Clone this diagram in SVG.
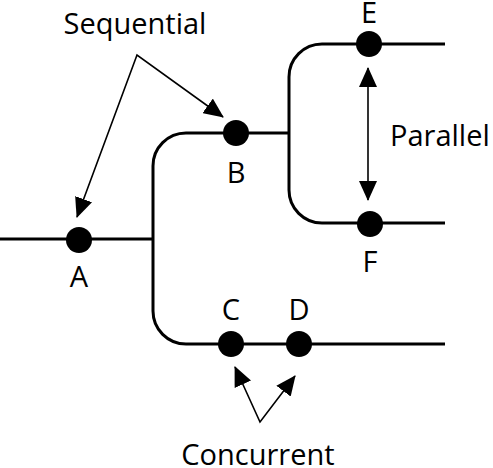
<svg xmlns="http://www.w3.org/2000/svg" width="493" height="468" viewBox="0 0 493 468">
<style>
.wire{fill:none;stroke:#000;stroke-width:3}
.ptr{fill:none;stroke:#000;stroke-width:1.6}
.dot{fill:#000}
text{font-family:"Open Sans","Liberation Sans",Arial,sans-serif;font-size:29px;fill:#000}
.c{text-anchor:middle}
</style>
<defs>
<marker id="ah" markerUnits="userSpaceOnUse" markerWidth="20" markerHeight="18" viewBox="0 0 20 18" refX="19" refY="9" orient="auto-start-reverse">
<path d="M0,0 L20,9 L0,18 Z" fill="#000"/>
</marker>
</defs>
<rect width="493" height="468" fill="#fff"/>
<g id="connectors">
<path class="wire" d="M0,239 H153"/>
<path class="wire" d="M289,133 H186 A33,33 0 0 0 153,166 V311 A33,33 0 0 0 186,344 H445"/>
<path class="wire" d="M445,44 H322 A33,33 0 0 0 289,77 V190 A33,33 0 0 0 322,223 H445"/>
<polyline class="ptr" points="223,117 137,55 77,217" marker-start="url(#ah)" marker-end="url(#ah)"/>
<line class="ptr" x1="368" y1="68" x2="368" y2="200" marker-start="url(#ah)" marker-end="url(#ah)"/>
<polyline class="ptr" points="235,367 260,422 295,376" marker-start="url(#ah)" marker-end="url(#ah)"/>
</g>
<g id="A"><circle class="dot" cx="79" cy="240" r="13"/><text class="c" x="79" y="287">A</text></g>
<g id="B"><circle class="dot" cx="236" cy="133" r="13"/><text class="c" x="236" y="183">B</text></g>
<g id="C"><circle class="dot" cx="231" cy="344" r="13"/><text class="c" x="231" y="320">C</text></g>
<g id="D"><circle class="dot" cx="299" cy="344" r="13"/><text class="c" x="299" y="320">D</text></g>
<g id="E"><circle class="dot" cx="369" cy="44" r="13"/><text class="c" x="369" y="23">E</text></g>
<g id="F"><circle class="dot" cx="370" cy="224" r="13"/><text class="c" x="370" y="272">F</text></g>
<g id="labels">
<text class="c" x="135" y="34">Sequential</text>
<text x="390" y="146">Parallel</text>
<text class="c" x="258" y="465">Concurrent</text>
</g>
</svg>
